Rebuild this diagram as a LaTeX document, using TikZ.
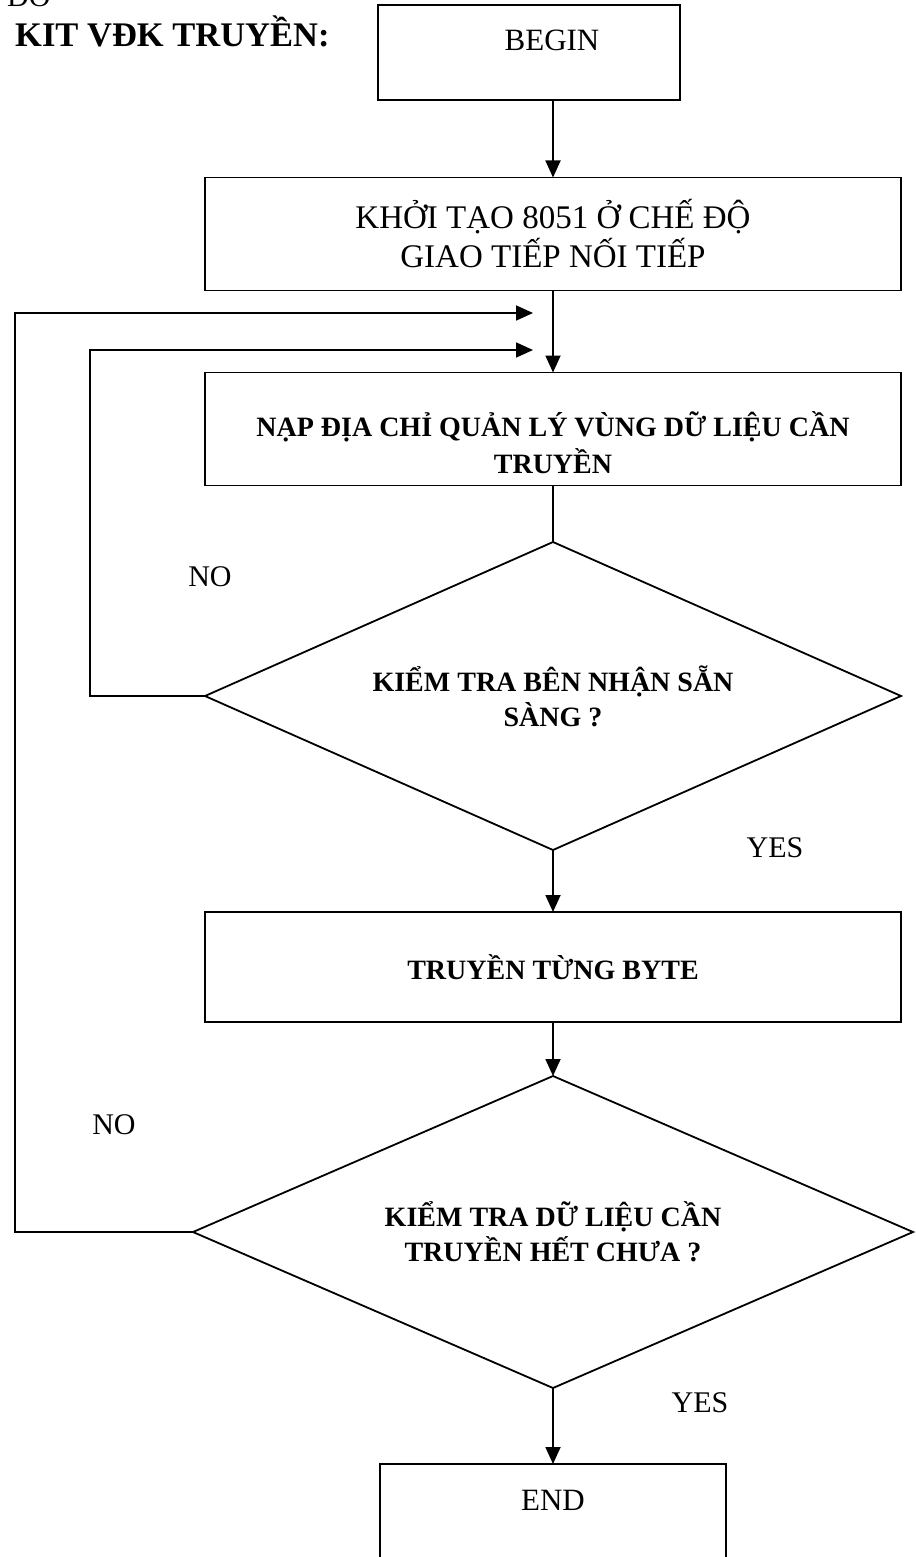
\documentclass[tikz,border=0pt]{standalone}
\usepackage{fontspec}
\setmainfont{Liberation Serif}
\usetikzlibrary{shapes.geometric,positioning,arrows.meta}

\begin{document}
\begin{tikzpicture}[x=1pt, y=-1pt,
    stepbox/.style={rectangle, draw, line width=1.8pt, minimum width=696pt, minimum height=113pt,
                  inner sep=0pt, outer sep=0pt, align=center},
    termbox/.style={rectangle, draw, line width=1.8pt, inner sep=0pt, outer sep=0pt},
    decision/.style={diamond, draw, line width=1.8pt, aspect=2.3, inner sep=0pt, outer sep=0pt,
                  align=center, font=\bfseries\fontsize{28}{35}\selectfont},
    arrow/.style={-{Triangle[length=17pt, width=15pt]}, line width=1.8pt},
    link/.style={line width=1.8pt},
    plain/.style={font=\fontsize{33}{39}\selectfont},
    heavy/.style={font=\bfseries\fontsize{28}{37}\selectfont},
    answer/.style={font=\fontsize{30}{36}\selectfont}
]
\useasboundingbox (0,0) rectangle (915,1557);

% Heading (cut off at the top edge)
\node[anchor=base west, inner sep=0pt, font=\fontsize{30}{36}\selectfont] (cut) at (7,7) {ĐỒ};
\node[anchor=base west, inner sep=0pt, font=\bfseries\fontsize{34.5}{40}\selectfont] (title) at (15,47) {KIT VĐK TRUYỀN:};

% Start and end boxes
\node[termbox, minimum width=302pt, minimum height=95pt] (begin) at (529,52.5) {};
\node[anchor=base, font=\fontsize{31}{36}\selectfont] (begintext) at (552,51) {BEGIN};

\node[termbox, minimum width=346pt, minimum height=200pt] (end) at (553,1564) {};
\node[anchor=base, font=\fontsize{31}{36}\selectfont] (endtext) at (553,1510) {END};

% Process steps
\node[stepbox, plain] (init) at (553,234) {KHỞI TẠO 8051 Ở CHẾ ĐỘ\\GIAO TIẾP NỐI TIẾP};
\node[stepbox] (load) at (553,429) {};
\node[heavy, align=center] (loadtext) at (553,443) {NẠP ĐỊA CHỈ QUẢN LÝ VÙNG DỮ LIỆU CẦN\\TRUYỀN};
\node[stepbox, heavy, minimum height=110pt] (send) at (553,967) {TRUYỀN TỪNG BYTE};

% Decisions
\node[decision, minimum width=696pt, minimum height=308pt] (ready) at (553,696)
    {KIỂM TRA BÊN NHẬN SẴN\\SÀNG ?};
\node[decision, minimum width=720pt, minimum height=312pt] (done) at (553,1232)
    {KIỂM TRA DỮ LIỆU CẦN\\TRUYỀN HẾT CHƯA ?};

% Main flow
\draw[arrow] (init.north |- begin.south) -- (init.north);
\draw[arrow] (init.south) -- (load.north);
\draw[link] (load.south) -- (ready.north);
\draw[arrow] (ready.south) -- (send.north);
\draw[arrow] (send.south) -- (done.north);
\draw[arrow] (done.south) -- (end.north);

% Loops back
\coordinate (back1) at (533,350);
\coordinate (back2) at (533,313);
\draw[arrow] (ready.west) -- ++(-115,0) |- (back1);
\draw[arrow] (done.west) -- ++(-178,0) |- (back2);

% Answers
\node[answer] (no1) at (210,577) {NO};
\node[answer] (yes1) at (775,848) {YES};
\node[answer] (no2) at (114,1125) {NO};
\node[answer] (yes2) at (700,1403) {YES};

\end{tikzpicture}
\end{document}
